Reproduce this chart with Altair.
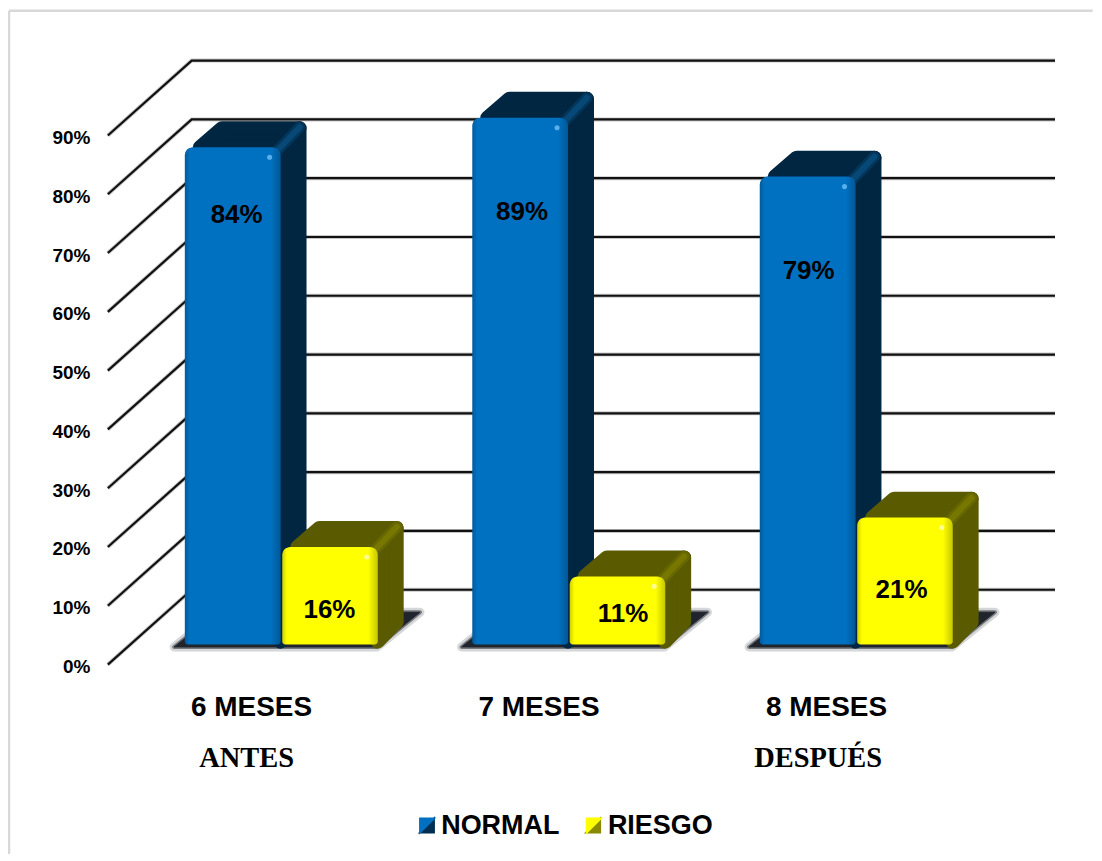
import json
import altair as alt
import pandas as pd

# ---- values ----
CATEGORIES = ["6 MESES", "7 MESES", "8 MESES"]
NORMAL = [84, 89, 79]
RIESGO = [16, 11, 21]
NORMAL_LABEL_X = [0.842, 1.835, 2.832]
NORMAL_LABEL_Y = [76.55, 77.05, 66.95]
RIESGO_LABEL_X = [1.165, 2.186, 3.155]
RIESGO_LABEL_Y = [9.35, 8.65, 12.75]
Y_TICKS = [0, 10, 20, 30, 40, 50, 60, 70, 80, 90]
PHASE_TEXT = ["ANTES", "DESPUÉS"]
PHASE_X = [0.877, 2.865]
PHASE_Y = [-15.95, -15.95]
SERIES = ["NORMAL", "RIESGO"]
FRONT = ["#0070c0", "#ffff00"]
DARK = ["#002642", "#5a5a00"]
BEVEL = ["#0a5588", "#828200"]
SPOT = ["#66bbf5", "#ffffa8"]
SWATCH_DARK = ["#002f52", "#8a8a00"]
SWATCH_X = [1.502, 2.080]
SWATCH_Y = -27.25

# ---- scale geometry ----
PX_X, PX_Y = 288.0, 5.89            # px per category / px per percent
WIDTH, HEIGHT = 960, 670
XDOM = [0.3663, 0.3663 + WIDTH / PX_X]
YDOM = [-15 / PX_Y, -15 / PX_Y + HEIGHT / PX_Y]
WALL_DX, WALL_DY, WALL_LEFT, WALL_RIGHT = 0.2917, 12.73, 0.3941, 3.689
DX, DY = 26 / PX_X, 26 / PX_Y       # bar depth
IX, IY = 7 / PX_X, 7 / PX_Y         # inset for the round-join stroke
PLANE, BASE = 4.0, 3.4
OFFS = [(-0.338, -0.005), (0.001, 0.333)]
FONT = "Liberation Sans"

xs = alt.Scale(domain=XDOM, range=[0, WIDTH], zero=False, nice=False)
ys = alt.Scale(domain=YDOM, range=[HEIGHT, 0], zero=False, nice=False)
x_axis = alt.Axis(
    values=[1, 2, 3], title=None, domain=False, ticks=False, grid=False,
    labelExpr=json.dumps(CATEGORIES) + "[datum.value-1]",
    labelFont=FONT, labelFontWeight="bold", labelFontSize=28, labelColor="#000",
    labelOffset=-31, labelPadding=14, labelFlush=False, labelOverlap=False, labelBound=False)
y_axis = alt.Axis(
    values=Y_TICKS, title=None, domain=False, ticks=False, grid=False,
    labelExpr="datum.value + '%'",
    labelFont=FONT, labelFontWeight="bold", labelFontSize=19, labelColor="#000",
    labelOffset=2, labelPadding=10, labelFlush=False, labelOverlap=False, labelBound=False)
X = alt.X("x:Q", scale=xs, axis=x_axis)
X2 = alt.X2("x2:Q")
Y = alt.Y("y:Q", scale=ys, axis=y_axis)
Y2 = alt.Y2("y2:Q")

layers = []

# border
border = pd.DataFrame([
    {"x": XDOM[0] - 91 / PX_X, "y": YDOM[1], "g": 0},
    {"x": 3.82, "y": YDOM[1], "g": 0},
    {"x": XDOM[0] - 91 / PX_X, "y": YDOM[1], "g": 1},
    {"x": XDOM[0] - 91 / PX_X, "y": -33, "g": 1},
])
layers.append(alt.Chart(border).mark_line(color="#d8d8d8", strokeWidth=2.5).encode(
    x=X, y=Y, detail="g:N"))

# wall grid
grid_rows = []
for t in Y_TICKS:
    grid_rows += [
        {"x": WALL_LEFT, "y": t, "g": t, "o": 0},
        {"x": WALL_LEFT + WALL_DX, "y": t + WALL_DY, "g": t, "o": 1},
        {"x": WALL_RIGHT, "y": t + WALL_DY, "g": t, "o": 2},
    ]
grid = pd.DataFrame(grid_rows)
for w, c, op in [(4, "#000000", 0.22), (2.2, "#111111", 1)]:
    layers.append(alt.Chart(grid).mark_line(color=c, strokeWidth=w, opacity=op).encode(
        x=X, y=Y, detail="g:N", order="o:Q"))

# floor shadows
shadow_rows = []
for i in range(3):
    c = i + 1
    shadow_rows += [
        {"y": 3.0, "x": c - 0.375, "x2": c + 0.33, "g": i},
        {"y": 8.9, "x": c - 0.225, "x2": c + 0.48, "g": i},
    ]
shadow = pd.DataFrame(shadow_rows)
for w, op in [(9, 0.18), (4, 0.5), (1, 0.95)]:
    layers.append(alt.Chart(shadow).mark_area(
        orient="horizontal", color="#1b2029", stroke="#1b2029", strokeWidth=w,
        strokeJoin="round", opacity=op).encode(x=X, x2=X2, y=Y, detail="g:N"))

# 3-D bars, NORMAL first then RIESGO
for s, vals in enumerate([NORMAL, RIESGO]):
    side, top, bevel, front, spots = [], [], [], [], []
    for i, v in enumerate(vals):
        c = i + 1
        x0, x1 = c + OFFS[s][0], c + OFFS[s][1]
        t = v + PLANE
        side += [
            {"x": x1, "y": t, "y2": BASE + 0.5, "g": i},
            {"x": x1 + DX - IX, "y": t + DY - IY, "y2": BASE + DY - 0.5 * IY, "g": i},
        ]
        top += [
            {"y": t, "x": x0 + 15 / PX_X, "x2": x1, "g": i},
            {"y": t + DY - IY, "x": x0 + DX + 11 / PX_X, "x2": x1 + DX - IX, "g": i},
        ]
        bevel += [
            {"x": x1 - 2 / PX_X, "y": t - 2 / PX_Y, "g": i},
            {"x": x1 + DX - 7 / PX_X, "y": t + DY - 6 / PX_Y, "g": i},
        ]
        front.append({"x": x0, "x2": x1, "y": t, "y2": BASE, "serie": SERIES[s]})
        spots.append({"x": x1 - 11 / PX_X, "y": t - 10 / PX_Y})
    dark = DARK[s]
    layers.append(alt.Chart(pd.DataFrame(side)).mark_area(
        color=dark, stroke=dark, strokeWidth=14, strokeJoin="round").encode(
        x=X, y=Y, y2=Y2, detail="g:N"))
    layers.append(alt.Chart(pd.DataFrame(top)).mark_area(
        orient="horizontal", color=dark, stroke=dark, strokeWidth=14, strokeJoin="round").encode(
        x=X, x2=X2, y=Y, detail="g:N"))
    for w, op in [(11, 0.35), (6, 0.6)]:
        layers.append(alt.Chart(pd.DataFrame(bevel)).mark_line(
            color=BEVEL[s], strokeWidth=w, strokeCap="round", opacity=op).encode(
            x=X, y=Y, detail="g:N"))
    df_front = pd.DataFrame(front)
    layers.append(alt.Chart(df_front).mark_bar(
        cornerRadiusTopLeft=8, cornerRadiusTopRight=8,
        cornerRadiusBottomLeft=3, cornerRadiusBottomRight=3).encode(
        x=X, x2=X2, y=Y, y2=Y2,
        color=alt.Color("serie:N", scale=alt.Scale(domain=SERIES, range=FRONT), legend=alt.Legend(
            orient="none", legendX=315, legendY=803, direction="horizontal", columns=2,
            title=None, symbolType="M-1,-1L1,-1L-1,1Z", symbolSize=300, symbolStrokeWidth=0,
            symbolOpacity=1, labelFont=FONT, labelFontWeight="bold", labelFontSize=27,
            labelColor="#000", labelOffset=0, columnPadding=21, padding=0, labelLimit=300))))
    edge = alt.Gradient(gradient="linear", x1=0, x2=1, y1=0, y2=0, stops=[
        alt.GradientStop(color="rgba(0,0,0,0.18)", offset=0),
        alt.GradientStop(color="rgba(0,0,0,0)", offset=0.05),
        alt.GradientStop(color="rgba(0,0,0,0)", offset=0.9),
        alt.GradientStop(color="rgba(0,0,0,0.22)", offset=1),
    ])
    layers.append(alt.Chart(df_front).mark_bar(
        fill=edge, cornerRadiusTopLeft=8, cornerRadiusTopRight=8,
        cornerRadiusBottomLeft=3, cornerRadiusBottomRight=3).encode(
        x=X, x2=X2, y=Y, y2=Y2))
    layers.append(alt.Chart(pd.DataFrame(spots)).mark_point(
        shape="circle", filled=True, color=SPOT[s], size=26, opacity=0.85).encode(x=X, y=Y))

# percentage labels
val_df = pd.DataFrame({
    "x": NORMAL_LABEL_X + RIESGO_LABEL_X,
    "y": NORMAL_LABEL_Y + RIESGO_LABEL_Y,
    "t": [f"{v}%" for v in NORMAL + RIESGO],
})
layers.append(alt.Chart(val_df).mark_text(
    font=FONT, fontWeight="bold", fontSize=26, color="#000", align="center", baseline="middle"
).encode(x=X, y=Y, text="t:N"))

# ANTES / DESPUÉS
phase_df = pd.DataFrame({"x": PHASE_X, "y": PHASE_Y, "t": PHASE_TEXT})
layers.append(alt.Chart(phase_df).mark_text(
    font="Liberation Serif", fontWeight="bold", fontSize=28.5, color="#000",
    align="center", baseline="middle").encode(x=X, y=Y, text="t:N"))

# dark half of the legend swatches
sw_df = pd.DataFrame({"x": SWATCH_X, "y": [SWATCH_Y] * 2, "c": SWATCH_DARK})
layers.append(alt.Chart(sw_df).mark_point(
    shape="M1,-1L1,1L-1,1Z", filled=True, size=300, opacity=1).encode(
    x=X, y=Y, fill=alt.Fill("c:N", scale=None)))

chart = alt.layer(*layers).properties(
    width=WIDTH, height=HEIGHT,
    padding={"left": 92, "top": 2, "right": 36, "bottom": 174},
    autosize=alt.AutoSizeParams(type="none"),
    background="#ffffff",
).configure_view(stroke=None)

chart.save("out.html", embed_options={"renderer": "svg", "actions": False})
